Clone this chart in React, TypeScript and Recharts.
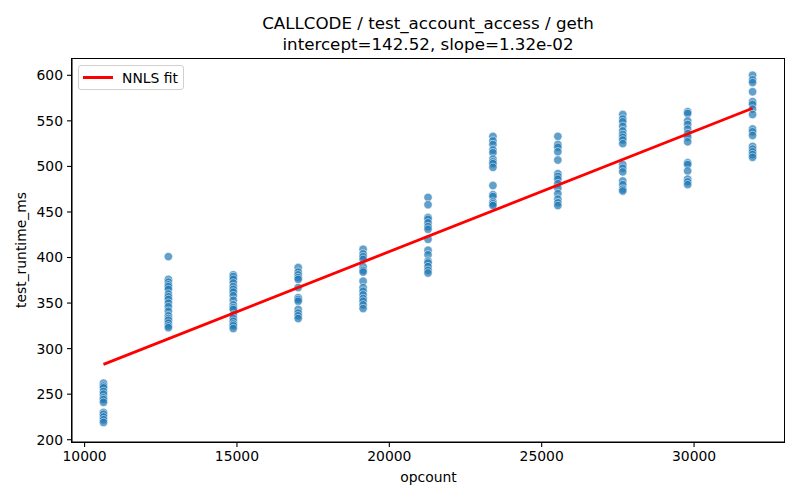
import React from 'react';
import { ScatterChart, Scatter, XAxis, YAxis } from 'recharts';

const opcounts = [10620, 12750, 14880, 17010, 19140, 21270, 23400, 25530, 27660, 29790, 31920];

const runtimes: number[][] = [
  [262, 259, 257, 253, 250, 246, 244, 241, 230, 228, 225, 222, 219],
  [401, 376, 373, 370, 368, 365, 360, 357, 354, 350, 346, 341, 336, 333, 331, 328, 325, 323],
  [381, 379, 376, 372, 368, 365, 362, 358, 353, 348, 345, 343, 337, 333, 330, 327, 325, 322],
  [389, 384, 381, 378, 376, 367, 356, 354, 352, 343, 339, 336, 333],
  [409, 404, 401, 398, 390, 386, 384, 374, 367, 363, 359, 355, 352, 348, 344],
  [466, 458, 444, 442, 438, 434, 431, 420, 408, 403, 396, 394, 390, 386, 383],
  [533, 528, 524, 518, 515, 508, 505, 503, 499, 479, 469, 467, 461, 459, 457],
  [533, 524, 521, 516, 507, 492, 489, 486, 481, 476, 470, 464, 460, 457],
  [557, 552, 549, 544, 539, 535, 532, 529, 525, 502, 498, 494, 484, 480, 475, 473],
  [560, 558, 550, 546, 541, 536, 532, 527, 504, 502, 495, 486, 483, 480],
  [600, 595, 592, 582, 571, 568, 563, 557, 541, 538, 534, 522, 519, 516, 513, 510],
];

const intercept = 142.52;
const slope = 1.32e-2;

const xTicks = [10000, 15000, 20000, 25000, 30000];
const yTicks = [200, 250, 300, 350, 400, 450, 500, 550, 600];

const titleLine1 = 'CALLCODE / test_account_access / geth';
const titleLine2 = 'intercept=142.52, slope=1.32e-02';
const legendLabel = 'NNLS fit';

const points = opcounts.flatMap((x, i) => runtimes[i].map((y) => ({ x, y })));
const xMin = Math.min(...opcounts);
const xMax = Math.max(...opcounts);
const fitData = [
  { x: xMin, y: intercept + slope * xMin },
  { x: xMax, y: intercept + slope * xMax },
];

const FONT = 'DejaVu Sans, sans-serif';
const tickStyle = { fill: '#000', fontSize: 13.9, fontFamily: FONT };
const XDOM: [number, number] = [9587, 32984];
const YDOM: [number, number] = [197.5, 619];

const MARGIN = { top: 58, right: 15, bottom: 0, left: 0 };
const Y_AXIS_W = 72;
const X_AXIS_H = 58;
const CW = 800;
const CH = 500;

const Dot = (props: any) => (
  <circle
    cx={props.cx}
    cy={props.cy}
    r={4.2}
    fill="#1f77b4"
    fillOpacity={0.7}
    stroke="#ffffff"
    strokeOpacity={0.7}
    strokeWidth={0.75}
  />
);

const LegendBox = () => (
  <div
    style={{
      position: 'absolute',
      left: 78,
      top: 65,
      border: '1px solid #d0d0d0',
      borderRadius: 3,
      background: '#fff',
      width: 104,
      height: 23,
      display: 'flex',
      alignItems: 'center',
      fontFamily: FONT,
      fontSize: 13.9,
      color: '#000',
      boxSizing: 'content-box',
      zIndex: 3,
    }}
  >
    <div style={{ width: 30, height: 2.8, background: '#ff0000', marginLeft: 4, marginRight: 9 }} />
    <span>{legendLabel}</span>
  </div>
);

const Frame = () => {
  const x = MARGIN.left + Y_AXIS_W;
  const y = MARGIN.top;
  const w = CW - MARGIN.right - x;
  const h = CH - MARGIN.bottom - X_AXIS_H - y;
  return (
    <div
      style={{
        position: 'absolute',
        left: x - 1,
        top: y,
        width: w + 1,
        height: h + 1,
        border: '1px solid #000',
        boxSizing: 'border-box',
        pointerEvents: 'none',
        zIndex: 2,
      }}
    />
  );
};

export default function App() {
  return (
    <div style={{ position: 'relative', margin: -8, width: CW, height: CH, background: '#fff' }}>
      <div style={{ position: 'absolute', left: 0, top: 0, zIndex: 1 }}>
        <ScatterChart width={CW} height={CH} margin={MARGIN}>
          <XAxis
            type="number"
            dataKey="x"
            domain={XDOM}
            ticks={xTicks}
            allowDataOverflow
            height={X_AXIS_H}
            tick={tickStyle}
            tickSize={5}
            tickMargin={4}
            axisLine={{ stroke: '#000', strokeWidth: 1.1 }}
            tickLine={{ stroke: '#000', strokeWidth: 1.1 }}
            label={{
              value: 'opcount',
              position: 'insideBottom',
              offset: 18,
              style: { fill: '#000', fontSize: 13.9, fontFamily: FONT },
            }}
          />
          <YAxis
            type="number"
            dataKey="y"
            domain={YDOM}
            ticks={yTicks}
            allowDataOverflow
            width={Y_AXIS_W}
            tick={tickStyle}
            tickSize={5}
            tickMargin={4}
            axisLine={{ stroke: '#000', strokeWidth: 1.1 }}
            tickLine={{ stroke: '#000', strokeWidth: 1.1 }}
            label={{
              value: 'test_runtime_ms',
              angle: -90,
              position: 'insideLeft',
              offset: 21,
              style: { fill: '#000', fontSize: 13.9, fontFamily: FONT, textAnchor: 'middle' },
            }}
          />
          <Scatter data={points} shape={Dot} isAnimationActive={false} />
          <Scatter
            data={fitData}
            line={{ stroke: '#ff0000', strokeWidth: 2.8 }}
            shape={() => <g />}
            isAnimationActive={false}
          />
        </ScatterChart>
      </div>
      <svg width={CW} height={60} style={{ position: 'absolute', left: 0, top: 0, zIndex: 2 }}>
        <text x={428} y={29.3} textAnchor="middle" fontFamily={FONT} fontSize={16.7} fill="#000">
          {titleLine1}
        </text>
        <text x={428} y={50} textAnchor="middle" fontFamily={FONT} fontSize={16.7} fill="#000">
          {titleLine2}
        </text>
      </svg>
      <Frame />
      <LegendBox />
    </div>
  );
}
